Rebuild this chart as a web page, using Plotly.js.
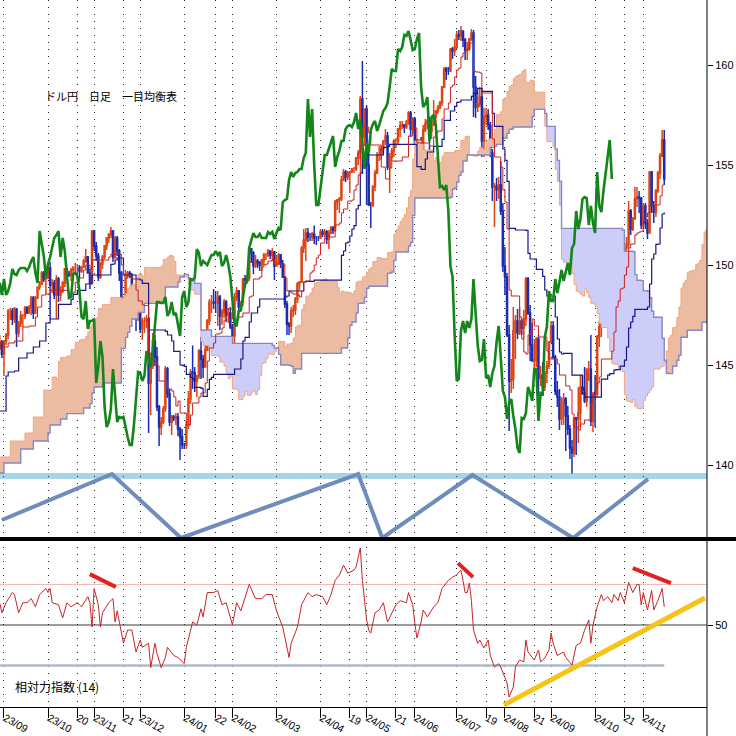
<!DOCTYPE html>
<html><head><meta charset="utf-8">
<script src="https://cdn.plot.ly/plotly-3.0.1.min.js"></script>
<style>html,body{margin:0;padding:0;background:#fff}#chart{width:736px;height:736px}</style>
</head><body><div id="chart"></div>
<script>
// ---------- DATA ----------
// trading-day index of the first candle (index 0 = 2023-09-01)
const FIRST_DAY = -2;
const openP = [
145.85,146.15,
145.55,146.2,146.5,147.7,147.7,147.3,147.8,146.6,147.1,147.45,147.45,147.85,147.6,147.85,148.35,147.6,148.35,148.9,149.05,149.6,149.3,
149.35,149.85,149.0,149.1,148.5,149.3,148.5,148.7,149.1,149.8,149.55,149.5,149.75,149.85,149.85,149.85,149.7,149.9,150.2,150.4,149.6,149.1,
151.7,150.95,150.45,149.4,150.05,150.4,150.95,151.35,151.5,151.7,150.4,151.35,150.7,149.6,148.35,148.4,149.55,149.6,149.45,148.7,147.4,147.3,
148.2,146.8,147.2,147.2,147.3,144.1,144.95,146.2,145.4,142.9,141.9,142.15,142.8,144.8,143.55,142.15,142.4,142.35,142.4,141.8,141.4,
141.0,141.0,142.0,143.3,144.65,144.6,144.2,144.45,145.7,145.3,144.9,145.75,147.2,148.15,148.15,148.1,148.1,148.4,147.45,147.65,148.15,147.5,147.6,
146.9,146.45,148.4,148.7,147.9,148.15,149.3,149.25,149.35,150.8,150.6,149.95,150.2,150.1,150.0,150.25,150.5,150.5,150.7,150.5,150.65,
149.95,150.1,150.5,150.05,149.4,148.05,147.05,146.95,147.7,147.75,148.3,149.05,149.15,150.85,151.25,151.6,151.4,151.4,151.55,151.35,151.35,
151.35,151.65,151.55,151.65,151.3,151.6,151.85,151.75,153.15,153.25,153.3,154.25,154.65,154.4,154.6,154.65,154.8,154.8,155.35,155.6,158.3,156.4,
157.8,155.0,153.0,153.0,153.9,154.6,155.5,155.5,155.8,156.2,156.45,154.9,155.4,155.7,156.2,156.2,156.8,156.95,157.0,156.9,157.15,157.6,156.8,
157.3,156.1,154.8,156.1,155.6,156.75,157.05,157.2,156.7,157.0,157.4,157.7,157.85,158.1,158.9,159.8,159.7,159.7,160.8,160.7,
160.9,161.5,161.45,161.7,161.25,160.75,160.8,161.3,161.6,158.9,157.9,158.05,158.4,156.2,157.4,157.5,157.0,155.6,153.9,153.95,153.75,154.0,152.7,
149.95,149.4,146.5,144.2,144.3,146.7,147.2,146.6,147.2,146.85,147.3,149.3,147.6,146.0,145.2,145.25,146.3,144.35,144.5,143.9,144.6,144.95,
146.15,146.95,145.4,143.7,143.4,142.3,143.1,143.3,142.45,141.8,140.85,140.6,142.35,142.3,142.6,143.9,143.6,143.2,144.8,144.8,142.2,
143.6,143.55,146.4,146.9,148.7,148.2,148.2,149.3,148.6,149.15,149.75,149.2,149.6,150.1,149.5,150.85,151.05,152.7,151.8,152.3,153.3,153.4,153.35,
152.0,152.95,152.1,151.6,154.65,152.95,152.65,153.7,154.6,155.45,156.25];
const highP = [
146.5,146.25,
146.25,146.6,147.8,147.85,147.85,147.9,147.85,147.2,147.7,147.55,147.95,147.95,148.0,148.45,148.45,148.45,148.9,149.2,149.7,149.7,149.8,
149.9,150.16,149.3,149.25,149.5,149.4,148.95,149.2,149.85,149.85,149.7,149.85,149.95,150.1,150.05,150.0,149.95,150.3,150.8,150.45,149.8,151.7,
151.75,151.15,150.6,150.15,150.5,151.0,151.4,151.6,151.9,151.75,151.45,151.45,150.8,149.7,148.45,149.75,149.7,149.7,149.6,148.8,147.6,148.5,
148.3,147.35,147.4,147.5,147.4,145.2,146.6,146.5,145.9,143.0,142.4,142.95,144.95,144.9,143.8,142.5,142.5,142.6,142.6,141.9,141.8,
141.1,142.2,143.7,144.8,145.98,144.9,144.5,145.8,146.4,145.5,146.0,147.3,148.3,148.5,148.8,148.7,148.7,148.5,147.8,148.3,148.25,147.85,147.9,
147.05,148.6,148.9,148.75,148.2,149.35,149.5,149.5,150.9,150.85,150.7,150.5,150.3,150.2,150.3,150.6,150.6,150.8,150.7,150.85,150.7,
150.5,150.6,150.55,150.25,149.45,148.2,147.15,147.9,148.0,148.4,149.15,149.2,150.95,151.8,151.85,151.85,151.6,151.65,151.97,151.45,151.45,
151.8,151.8,151.8,151.75,151.75,151.95,151.95,153.25,153.3,153.4,154.45,154.8,154.75,154.7,154.7,154.85,154.9,155.4,155.75,158.45,160.2,157.8,
157.99,155.95,153.15,154.0,154.75,155.65,155.95,155.95,156.25,156.8,156.65,155.6,155.85,156.3,156.35,156.85,157.2,157.2,157.05,157.25,157.7,157.7,157.4,
157.4,156.3,156.3,156.4,157.0,157.3,157.3,157.4,157.15,158.25,157.75,158.0,158.2,158.95,159.9,159.9,159.9,160.85,160.9,161.3,
161.7,161.75,161.95,161.7,161.35,161.15,161.35,161.8,161.75,159.45,158.6,158.9,158.85,157.85,157.85,157.8,157.15,155.8,154.1,154.35,154.4,155.2,153.1,
150.9,149.6,147.0,145.3,147.9,147.5,147.8,147.9,147.3,147.75,149.4,149.4,148.0,147.1,146.3,146.4,146.5,144.95,145.15,144.7,145.2,146.2,
147.2,147.2,145.5,144.2,143.8,143.4,143.6,143.4,142.95,142.0,141.25,142.4,142.4,143.9,144.5,144.5,144.9,144.8,145.2,146.5,143.6,
144.5,146.5,147.2,149.0,148.8,148.3,149.4,149.55,149.4,149.9,149.95,149.75,150.3,150.3,150.9,151.4,153.2,152.8,152.4,153.9,153.9,153.7,153.4,
153.1,153.1,152.3,154.7,154.7,153.2,153.8,154.7,155.6,156.75,156.75];
const lowP = [
145.75,145.35,
144.45,146.0,146.3,147.25,147.0,147.1,145.9,146.4,146.9,146.9,147.3,147.55,147.6,147.5,147.3,147.55,148.3,148.75,149.0,149.15,148.55,
149.3,147.3,148.6,148.3,147.3,148.15,148.2,148.6,148.9,149.4,149.4,149.2,149.6,149.6,149.6,149.3,149.6,149.85,150.1,149.6,148.8,149.05,
150.7,150.2,149.2,149.3,149.8,150.3,150.75,151.1,151.35,150.15,150.3,150.45,149.2,148.1,147.15,148.3,149.3,149.35,148.45,147.3,146.7,147.2,
146.6,146.25,146.6,146.85,141.6,142.5,144.8,144.95,142.7,140.95,141.5,142.05,142.65,143.35,141.95,141.5,142.2,142.0,141.45,140.25,140.8,
140.8,140.8,141.8,143.05,143.8,143.65,143.4,144.3,144.3,144.35,144.9,145.7,147.0,147.6,147.8,147.6,146.95,146.75,147.0,147.35,147.15,147.1,146.8,
145.9,146.0,148.2,147.65,147.65,147.95,148.9,149.1,149.2,150.1,149.55,149.85,149.85,149.7,149.7,150.0,150.25,150.4,150.3,150.2,149.25,
149.9,150.0,149.85,149.35,147.85,146.5,146.5,146.6,147.4,147.5,148.1,148.75,149.1,150.6,150.2,151.15,151.2,151.2,151.05,151.0,151.2,
151.3,151.4,151.5,151.05,150.8,151.55,151.55,151.65,152.75,152.6,153.2,154.2,154.15,154.25,153.6,154.6,154.6,154.7,155.0,155.3,154.55,155.95,
153.0,152.95,151.85,152.9,153.7,154.55,155.2,155.25,155.6,156.0,154.75,153.6,155.2,155.4,155.85,156.0,156.4,156.8,156.6,156.8,157.0,156.4,156.55,
156.1,154.55,154.75,155.5,155.2,156.65,156.8,155.7,156.3,156.95,157.1,157.55,157.8,157.95,158.85,159.25,159.5,159.65,160.3,160.45,
160.8,161.25,161.2,160.9,160.25,160.25,160.7,161.2,157.4,157.35,157.65,157.9,155.4,155.4,157.0,156.75,155.4,153.2,151.9,153.2,153.3,152.5,149.65,
148.5,146.4,141.7,143.6,143.8,145.3,146.3,146.5,146.5,146.3,146.95,147.5,145.2,145.2,144.5,144.9,143.45,143.95,143.8,143.7,144.1,144.8,
146.1,145.3,143.5,142.9,141.75,142.0,142.0,140.7,141.5,140.3,139.58,140.4,140.5,141.1,141.9,143.5,143.1,142.9,144.2,141.95,141.65,
141.9,143.4,145.9,146.4,147.35,147.4,148.1,148.35,148.5,149.05,148.9,149.1,149.3,149.4,149.45,150.6,150.85,151.5,151.7,152.3,152.9,152.6,151.8,
151.8,151.8,151.3,151.6,152.6,152.1,152.4,153.6,154.3,155.4,154.0];
const closeP = [
146.15,145.55,
146.2,146.5,147.7,147.7,147.3,147.8,146.6,147.1,147.45,147.45,147.85,147.6,147.85,148.35,147.6,148.35,148.9,149.05,149.6,149.3,149.35,
149.85,149.0,149.1,148.5,149.3,148.5,148.7,149.1,149.8,149.55,149.5,149.75,149.85,149.85,149.85,149.7,149.9,150.2,150.4,149.6,149.1,151.7,
150.95,150.45,149.4,150.05,150.4,150.95,151.35,151.5,151.7,150.4,151.35,150.7,149.6,148.35,148.4,149.55,149.6,149.45,148.7,147.4,147.3,148.2,
146.8,147.2,147.2,147.3,144.1,144.95,146.2,145.4,142.9,141.9,142.15,142.8,144.8,143.55,142.15,142.4,142.35,142.4,141.8,141.4,141.0,
141.0,142.0,143.3,144.65,144.6,144.2,144.45,145.7,145.3,144.9,145.75,147.2,148.15,148.15,148.1,148.1,148.4,147.45,147.65,148.15,147.5,147.6,146.9,
146.45,148.4,148.7,147.9,148.15,149.3,149.25,149.35,150.8,150.6,149.95,150.2,150.1,150.0,150.25,150.5,150.5,150.7,150.5,150.65,149.95,
150.1,150.5,150.05,149.4,148.05,147.05,146.95,147.7,147.75,148.3,149.05,149.15,150.85,151.25,151.6,151.4,151.4,151.55,151.35,151.35,151.35,
151.65,151.55,151.65,151.3,151.6,151.85,151.75,153.15,153.25,153.3,154.25,154.65,154.4,154.6,154.65,154.8,154.8,155.35,155.6,158.3,156.4,157.8,
155.0,153.0,153.0,153.9,154.6,155.5,155.5,155.8,156.2,156.45,154.9,155.4,155.7,156.2,156.2,156.8,156.95,157.0,156.9,157.15,157.6,156.8,157.3,
156.1,154.8,156.1,155.6,156.75,157.05,157.2,156.7,157.0,157.4,157.7,157.85,158.1,158.9,159.8,159.7,159.7,160.8,160.7,160.9,
161.5,161.45,161.7,161.25,160.75,160.8,161.3,161.6,158.9,157.9,158.05,158.4,156.2,157.4,157.5,157.0,155.6,153.9,153.95,153.75,154.0,152.7,149.95,
149.4,146.5,144.2,144.3,146.7,147.2,146.6,147.2,146.85,147.3,149.3,147.6,146.0,145.2,145.25,146.3,144.35,144.5,143.9,144.6,144.95,146.15,
146.95,145.4,143.7,143.4,142.3,143.1,143.3,142.45,141.8,140.85,140.6,142.35,142.3,142.6,143.9,143.6,143.2,144.8,144.8,142.2,143.6,
143.55,146.4,146.9,148.7,148.2,148.2,149.3,148.6,149.15,149.75,149.2,149.6,150.1,149.5,150.85,151.05,152.7,151.8,152.3,153.3,153.4,153.35,152.0,
152.95,152.1,151.6,154.65,152.95,152.65,153.7,154.6,155.45,156.25,154.3];

// x-axis ticks (trading-day index) and their labels
const tickDay  = [0,21,35,43,57,65,86,101,109,130,151,165,173,187,196,216,230,239,253,261,282,296,305];
const tickText = ['23/09','23/10','20','23/11','21','23/12','24/01','22','24/02','24/03','24/04','19','24/05','21','24/06','24/07','19','24/08','21','24/09','24/10','21','24/11'];

// Ichimoku lines as [day, value] steps (value holds until next step)
const tenkanSteps = [[-2,146.1],[0,145.9],[2,146.1],[5,146.2],[9,146.9],[12,146.95],[15,147.4],[16,147.9],[18,148.5],[20,148.55],[22,148.73],[31,148.58],[33,148.63],[34,149.13],[35,149.15],[36,149.35],[38,149.75],[39,150.0],[41,149.8],[42,150.25],[50,150.4],[51,150.55],[54,150.6],[55,150.55],[56,150.0],[57,149.5],[60,149.45],[61,149.3],[63,148.75],[64,148.2],[66,148.0],[67,147.97],[69,145.6],[70,145.2],[73,144.95],[74,144.2],[78,143.8],[80,143.7],[81,143.4],[82,142.95],[83,143.2],[84,142.6],[87,142.0],[89,142.5],[90,143.1],[93,143.4],[94,143.6],[96,144.1],[97,145.2],[98,145.85],[100,146.1],[101,146.55],[103,146.6],[104,146.85],[105,147.25],[106,147.8],[109,147.3],[112,147.4],[114,147.6],[117,148.4],[118,148.45],[119,149.3],[122,149.4],[123,149.9],[124,150.0],[125,150.05],[126,150.2],[128,150.27],[129,150.05],[134,149.35],[135,148.7],[137,148.6],[138,148.55],[140,148.5],[141,148.4],[142,148.7],[143,149.15],[144,149.2],[146,149.6],[147,149.7],[148,150.0],[149,150.35],[150,150.5],[151,151.1],[153,151.5],[155,151.4],[158,152.0],[160,152.1],[161,152.6],[162,152.8],[164,153.2],[166,153.25],[167,153.75],[168,154.0],[169,154.5],[170,156.0],[171,156.9],[174,156.6],[175,156.0],[180,154.9],[182,154.3],[184,154.85],[185,155.2],[190,155.4],[193,156.45],[195,156.8],[196,156.85],[197,156.1],[203,155.95],[205,156.4],[206,156.6],[207,156.7],[209,157.3],[210,157.8],[212,158.1],[213,158.9],[214,159.0],[215,159.4],[216,159.75],[217,159.85],[218,160.4],[219,160.6],[220,160.7],[221,160.8],[222,161.1],[224,159.7],[225,159.65],[227,159.6],[228,158.6],[233,156.3],[234,155.4],[237,154.9],[238,153.75],[239,153.15],[240,151.8],[241,148.75],[242,148.45],[246,147.4],[247,146.3],[248,145.65],[249,145.55],[250,146.5],[251,146.6],[252,147.3],[253,146.95],[255,146.4],[259,145.7],[260,145.3],[264,145.05],[265,144.5],[268,143.95],[270,143.75],[271,142.55],[272,141.9],[274,141.75],[275,142.05],[277,142.25],[280,143.05],[281,143.5],[282,143.8],[283,144.1],[284,144.4],[285,145.3],[290,145.7],[291,146.65],[292,147.9],[293,148.2],[294,148.8],[295,148.85],[296,149.5],[297,149.9],[298,150.85],[299,151.05],[301,151.5],[302,151.6],[303,151.65],[304,151.7],[305,152.25],[306,152.4],[307,152.6],[308,153.0],[313,153.45],[314,154.0],[315,154.0]];
const kijunSteps = [[-2,142.7],[1,144.45],[2,144.65],[5,144.7],[7,145.35],[11,145.6],[14,145.9],[17,146.2],[20,147.1],[22,147.3],[26,148.03],[32,148.28],[33,148.53],[35,148.73],[39,149.05],[42,149.5],[51,150.03],[52,150.05],[53,150.25],[54,150.35],[57,149.5],[63,149.3],[65,149.25],[66,149.08],[69,146.75],[77,146.68],[78,146.5],[80,146.2],[81,145.68],[84,145.0],[85,144.98],[86,144.93],[87,144.53],[89,144.38],[90,144.28],[91,143.88],[94,143.83],[95,143.43],[97,143.78],[98,144.28],[99,144.38],[100,144.53],[110,144.8],[113,145.3],[114,146.2],[115,146.38],[117,147.15],[118,147.6],[121,147.9],[122,148.3],[134,148.4],[135,148.45],[136,148.7],[143,149.15],[144,149.18],[148,149.24],[161,150.48],[162,150.7],[163,151.1],[164,151.15],[165,151.45],[166,151.8],[167,151.97],[168,152.8],[169,152.98],[170,154.6],[171,155.5],[181,155.88],[183,155.93],[184,156.03],[197,154.92],[199,154.78],[201,155.3],[202,155.65],[205,155.93],[209,156.28],[210,157.23],[213,157.7],[215,157.93],[216,158.13],[217,158.15],[218,158.25],[223,158.43],[224,158.58],[226,158.83],[228,158.68],[233,157.58],[234,156.93],[238,155.8],[239,155.23],[240,154.18],[241,151.83],[244,151.75],[249,151.73],[250,150.58],[251,150.3],[254,149.78],[257,149.43],[258,148.75],[259,148.45],[263,147.4],[264,146.3],[265,145.65],[266,145.55],[267,145.58],[271,144.49],[276,143.79],[277,143.39],[285,144.29],[288,144.49],[289,144.57],[291,144.74],[292,144.77],[294,144.94],[296,145.24],[297,145.9],[298,146.85],[299,147.15],[300,147.43],[301,147.78],[307,147.9],[308,149.05],[309,150.3],[310,150.55],[311,151.03],[312,151.05],[313,151.85],[314,152.55],[315,152.63]];
// Senkou spans, keyed by the day they are calculated on (drawn SHIFT days ahead)
const senkouASteps = [[-27,140.4],[-22,141.2],[-15,141.6],[-11,142.4],[-6,143.75],[-2,144.4],[0,144.3],[1,145.18],[2,145.38],[5,145.45],[7,145.78],[9,146.13],[11,146.25],[12,146.28],[14,146.43],[15,146.65],[16,146.9],[17,147.05],[18,147.35],[20,147.83],[22,148.02],[26,148.38],[31,148.32],[32,148.44],[33,148.58],[34,148.82],[35,148.94],[36,149.04],[38,149.24],[39,149.53],[41,149.43],[42,149.88],[50,149.95],[51,150.29],[53,150.4],[54,150.48],[55,150.45],[56,150.18],[57,149.5],[60,149.48],[61,149.4],[63,149.03],[64,148.75],[65,148.73],[66,148.54],[69,146.18],[70,145.98],[73,145.85],[74,145.48],[77,145.44],[78,145.15],[80,144.95],[81,144.54],[82,144.32],[83,144.44],[84,143.8],[86,143.77],[87,143.27],[89,143.44],[90,143.69],[91,143.49],[93,143.64],[94,143.72],[95,143.52],[96,143.77],[97,144.49],[98,145.07],[99,145.12],[100,145.32],[101,145.54],[104,145.69],[105,145.89],[106,146.17],[109,145.92],[110,146.05],[112,146.1],[113,146.35],[114,146.9],[115,146.99],[117,147.78],[118,148.03],[119,148.45],[121,148.6],[122,148.85],[123,149.1],[124,149.15],[126,149.25],[128,149.29],[129,149.18],[134,148.88],[135,148.58],[136,148.7],[137,148.65],[140,148.6],[141,148.55],[142,148.7],[143,149.15],[144,149.19],[146,149.39],[147,149.44],[148,149.62],[149,149.8],[150,149.87],[151,150.17],[153,150.37],[155,150.32],[158,150.62],[160,150.67],[161,151.54],[162,151.75],[163,151.95],[164,152.18],[165,152.33],[166,152.53],[167,152.86],[168,153.4],[169,153.74],[170,155.3],[171,156.2],[174,156.05],[175,155.75],[180,155.2],[181,155.39],[182,155.09],[183,155.12],[184,155.44],[185,155.62],[190,155.72],[193,156.24],[195,156.42],[196,156.44],[197,155.51],[199,155.44],[201,155.7],[202,155.88],[203,155.8],[205,156.17],[206,156.27],[207,156.32],[209,156.79],[210,157.52],[212,157.67],[213,158.3],[214,158.35],[215,158.67],[216,158.94],[217,159.0],[218,159.33],[219,159.43],[220,159.48],[221,159.53],[222,159.68],[223,159.77],[224,159.14],[225,159.12],[226,159.24],[227,159.22],[228,158.64],[233,156.94],[234,156.17],[237,155.92],[238,154.78],[239,154.19],[240,152.99],[241,150.29],[242,150.14],[244,150.1],[246,149.58],[247,149.03],[248,148.7],[249,148.64],[250,148.54],[251,148.45],[252,148.8],[253,148.63],[254,148.37],[255,148.09],[257,147.92],[258,147.58],[259,147.08],[260,146.88],[263,146.35],[264,145.68],[265,145.08],[266,145.03],[268,144.77],[270,144.67],[271,143.52],[272,143.2],[274,143.12],[275,143.27],[276,142.92],[277,142.82],[280,143.22],[281,143.45],[282,143.6],[283,143.75],[284,143.9],[285,144.8],[288,144.9],[289,144.94],[290,145.14],[291,145.7],[292,146.34],[293,146.49],[294,146.87],[295,146.9],[296,147.37],[297,147.9],[298,148.85],[299,149.1],[300,149.24],[301,149.64],[302,149.69],[303,149.72],[304,149.74],[305,150.02],[306,150.09],[307,150.25],[308,151.03],[309,151.65],[310,151.78],[311,152.02],[312,152.03],[313,152.65],[314,153.28],[315,153.32]];
const senkouBSteps = [[-27,139.6],[-25,140.1],[-17,140.8],[-11,141.2],[-4,141.6],[-3,142.0],[2,142.3],[5,142.57],[13,142.85],[16,143.07],[17,143.6],[18,143.9],[22,144.1],[31,145.83],[33,146.38],[34,146.63],[35,146.93],[36,147.3],[39,147.63],[42,148.08],[51,148.18],[52,148.9],[58,149.15],[59,149.4],[61,149.53],[63,149.3],[65,149.25],[66,149.08],[69,146.75],[74,146.43],[84,146.08],[103,145.98],[104,145.85],[106,145.53],[107,145.0],[111,144.98],[112,144.93],[113,144.58],[114,144.8],[117,145.58],[136,145.85],[139,146.35],[140,146.98],[141,147.15],[143,147.6],[144,148.08],[146,148.1],[147,148.38],[148,148.84],[149,148.94],[158,149.58],[159,149.6],[160,149.65],[161,150.23],[162,150.65],[168,150.95],[169,151.13],[170,152.48],[171,153.35],[188,153.4],[189,153.8],[190,153.85],[191,154.15],[192,154.48],[193,154.65],[194,155.2],[196,155.5],[207,155.88],[209,155.93],[210,156.03],[213,156.35],[215,156.58],[216,156.78],[217,156.8],[218,156.9],[227,157.43],[228,157.78],[233,157.58],[234,156.93],[238,155.8],[239,155.23],[240,154.18],[241,151.83],[270,151.75],[271,150.69],[275,150.67],[276,149.52],[277,149.24],[279,149.22],[280,148.72],[282,148.69],[283,148.37],[284,147.69],[285,147.39],[289,146.34],[290,145.24],[291,144.59],[292,144.57],[294,144.94],[296,145.24],[297,145.49],[298,146.39],[301,146.74],[308,147.14],[313,147.59],[314,148.17],[315,148.17]];
const SHIFT = 25;   // senkou drawn ahead / chikou drawn back by this many days

// RSI(14): [day, value]
const rsiPoints = [[-2,60.8],[-1,56],[1,61],[4,66],[5,65],[7,56],[9,61],[11,61],[13,63],[15,59],[17,65],[20,68],[21,66],[22,68],[23,61],[26,60],[28,53.5],[30,61],[32,59],[35,61],[37,59],[40,64],[41,61],[42,49],[43,68],[45,60],[46,49],[47,56],[50,61],[52,63],[53,51.5],[54,57],[57,41],[59,47.5],[61,47.5],[63,36.7],[65,42.6],[66,39],[69,41],[70,29],[72,41],[73,36],[75,29],[77,34],[78,39],[81,35],[83,34],[86,31],[87,39],[90,51.5],[92,50],[94,58],[95,54],[97,66],[100,66],[102,67],[104,60],[106,61],[109,50],[111,61],[113,57],[115,63],[117,70],[120,63],[123,63],[125,65],[128,65],[130,57],[133,49],[136,34],[137,41],[140,49],[142,60],[145,66],[147,64],[149,65],[152,64],[154,60],[156,65],[158,72],[160,74.6],[162,79.5],[164,75.6],[167,77],[168,78.6],[170,88],[171,72],[173,52.5],[174,47.5],[175,46],[177,56],[179,57.4],[181,61],[183,51.5],[186,57.4],[187,60],[189,62],[192,61],[193,66],[195,60],[196,51],[197,43.6],[199,51.5],[200,57.4],[202,54],[205,59],[207,61],[209,68],[211,70.7],[212,72],[214,73.6],[216,74.6],[217,76],[218,77],[219,72],[220,66],[221,66],[222,70.7],[223,62],[224,47.5],[226,41],[227,42.6],[229,38.7],[231,42.6],[232,35],[234,29.3],[236,31],[237,29.3],[240,21.4],[241,14.5],[243,19.5],[244,29.3],[246,32.8],[248,31.8],[249,42.6],[250,36.7],[253,32.8],[255,37.7],[256,31.8],[258,33.7],[260,37.7],[261,46],[262,41],[264,35],[267,36.7],[268,34],[271,30.3],[272,35],[273,40],[275,41],[277,47.5],[279,52.5],[280,41],[281,50],[283,59],[285,65],[286,62],[288,64],[290,61],[291,65],[293,62],[294,66],[296,61],[298,71],[300,66],[302,70],[303,70],[304,60],[305,66],[307,57.4],[309,67],[310,57.4],[312,62],[314,68],[315,59]];
const rsiLevels = [70, 50, 30];

// hand-drawn analysis lines
const supportLevel = 139.45;
const waveDay = [-1, 51.5, 84.5, 169, 180.5, 223.5, 271.5, 307.3];
const waveVal = [137.25, 139.55, 136.35, 139.55, 136.35, 139.5, 136.35, 139.3];
const rsiDivergence = [ [[41,75.1],[53.4,68.7]], [[216.6,80.5],[223.8,73.6]], [[300,78],[318.2,70.7]] ];
const rsiTrendline = [[238.5,10.6],[334.4,63.3]];

// ---------- BUILD ----------
const N = Math.min(openP.length, highP.length, lowP.length, closeP.length);
const days = []; for (let k = 0; k < N; k++) days.push(FIRST_DAY + k);
const LAST_DAY = days[N - 1];

const PEACH = '#ebbba2', LAVENDER = '#cdcdf9';
function stepAt(steps, d) { let v = steps[0][1]; for (const s of steps) { if (s[0] <= d) v = s[1]; else break; } return v; }

const segs = []; let cur = null;
for (let j = senkouASteps[0][0]; j <= LAST_DAY; j++) {
  const a = stepAt(senkouASteps, j), b = stepAt(senkouBSteps, j), up = a >= b;
  if (!cur || cur.up !== up) { cur = {up, js: [], a: [], b: []}; segs.push(cur); }
  cur.js.push(j); cur.a.push(a); cur.b.push(b);
}
const traces = [];
segs.forEach(s => {
  const xs = [], ys = [];
  s.js.forEach((j, k) => { xs.push(j + SHIFT, j + SHIFT + 1); ys.push(s.a[k], s.a[k]); });
  for (let k = s.js.length - 1; k >= 0; k--) { xs.push(s.js[k] + SHIFT + 1, s.js[k] + SHIFT); ys.push(s.b[k], s.b[k]); }
  traces.push({type: 'scatter', mode: 'lines', x: xs, y: ys, fill: 'toself', fillcolor: s.up ? PEACH : LAVENDER,
    line: {width: 0}, hoverinfo: 'skip', showlegend: false, xaxis: 'x', yaxis: 'y'});
});
const lineTrace = (steps, color, width, shift) => ({type: 'scatter', mode: 'lines',
  x: steps.map(s => s[0] + shift), y: steps.map(s => s[1]),
  line: {color, width, shape: 'hv'}, hoverinfo: 'skip', showlegend: false, xaxis: 'x', yaxis: 'y'});
traces.push(lineTrace(senkouASteps, '#f2a57f', 1, SHIFT));
traces.push(lineTrace(senkouBSteps, '#8787c4', 1.4, SHIFT));

traces.push({type: 'candlestick', x: days, open: openP.slice(0, N), high: highP.slice(0, N), low: lowP.slice(0, N), close: closeP.slice(0, N),
  increasing: {line: {color: '#de4412', width: 1.5}, fillcolor: '#de4412'},
  decreasing: {line: {color: '#1a2cb4', width: 1.5}, fillcolor: '#1a2cb4'},
  whiskerwidth: 0, hoverinfo: 'skip', showlegend: false, xaxis: 'x', yaxis: 'y'});
traces.push(lineTrace(kijunSteps, '#16168e', 1.2, 0));
traces.push(lineTrace(tenkanSteps, '#cc2020', 1, 0));
traces.push({type: 'scatter', mode: 'lines', x: days.map(d => d - SHIFT), y: closeP.slice(0, N),
  line: {color: '#12861a', width: 2.6}, hoverinfo: 'skip', showlegend: false, xaxis: 'x', yaxis: 'y'});
traces.push({type: 'scatter', mode: 'lines', x: waveDay, y: waveVal, line: {color: '#6e8dbb', width: 4},
  hoverinfo: 'skip', showlegend: false, xaxis: 'x', yaxis: 'y', cliponaxis: false});

traces.push({type: 'scatter', mode: 'lines', x: [FIRST_DAY, LAST_DAY], y: [rsiLevels[2], rsiLevels[2]],
  line: {color: '#adbac8', width: 2.5}, hoverinfo: 'skip', showlegend: false, xaxis: 'x', yaxis: 'y2'});
traces.push({type: 'scatter', mode: 'lines', x: rsiPoints.map(p => p[0]), y: rsiPoints.map(p => p[1]),
  line: {color: '#c42626', width: 1}, hoverinfo: 'skip', showlegend: false, xaxis: 'x', yaxis: 'y2'});
rsiDivergence.forEach(seg => traces.push({type: 'scatter', mode: 'lines', x: seg.map(p => p[0]), y: seg.map(p => p[1]),
  line: {color: '#e02222', width: 4}, hoverinfo: 'skip', showlegend: false, xaxis: 'x', yaxis: 'y2'}));
traces.push({type: 'scatter', mode: 'lines', x: rsiTrendline.map(p => p[0]), y: rsiTrendline.map(p => p[1]),
  line: {color: '#f6c316', width: 5}, hoverinfo: 'skip', showlegend: false, xaxis: 'x', yaxis: 'y2'});

const NARROW = '"Liberation Sans Narrow","Liberation Sans",Arial,sans-serif';
const PH = 707;
const layout = {
  width: 736, height: 736, margin: {l: 0, r: 29, t: 0, b: 29},
  paper_bgcolor: '#fff', plot_bgcolor: '#fff', showlegend: false, hovermode: false,
  xaxis: {type: 'linear', domain: [0, 1], range: [-1.9, 335.4], anchor: 'y2',
    tickvals: tickDay, ticktext: tickText, ticks: 'outside', ticklen: 10, tickcolor: '#000', tickwidth: 1,
    ticklabelposition: 'outside right',
    showline: true, linecolor: '#000', linewidth: 1, showgrid: true, gridcolor: '#222', gridwidth: 1, griddash: '1px,6px',
    zeroline: false, tickfont: {family: NARROW, size: 10.5, color: '#000'}, rangeslider: {visible: false}, fixedrange: true},
  yaxis: {domain: [1 - 538 / PH, 1], range: [136.35, 163.25], side: 'right', anchor: 'x',
    tickvals: [140, 145, 150, 155, 160], ticks: 'outside', ticklen: 5, tickcolor: '#000',
    showgrid: false, zeroline: false, showline: false, tickfont: {family: NARROW, size: 11, color: '#000'}, fixedrange: true},
  yaxis2: {domain: [0, 1 - 540 / PH], range: [9.6, 91.9], side: 'right', anchor: 'x',
    tickvals: [50], ticks: 'outside', ticklen: 5, tickcolor: '#000',
    showgrid: false, zeroline: false, showline: false, tickfont: {family: NARROW, size: 11, color: '#000'}, fixedrange: true},
  shapes: [
    {type: 'line', xref: 'paper', yref: 'y', x0: 0, x1: 1, y0: supportLevel, y1: supportLevel, line: {color: '#a6d6e6', width: 6}, layer: 'below'},
    {type: 'line', xref: 'paper', yref: 'y2', x0: 0, x1: 1, y0: rsiLevels[0], y1: rsiLevels[0], line: {color: '#f3b3b3', width: 1}, layer: 'below'},
    {type: 'line', xref: 'paper', yref: 'y2', x0: 0, x1: 1, y0: rsiLevels[1], y1: rsiLevels[1], line: {color: '#7d7d7d', width: 1.3}, layer: 'below'},
    {type: 'line', xref: 'paper', yref: 'paper', x0: 0, x1: 736 / 707, y0: 1 - 539 / PH, y1: 1 - 539 / PH, line: {color: '#000', width: 4}},
    {type: 'line', xref: 'paper', yref: 'paper', x0: 1, x1: 1, y0: -29 / PH, y1: 1, line: {color: '#000', width: 1}}
  ],
  annotations: [
    {xref: 'paper', yref: 'paper', x: 43 / 707, y: 1 - 96 / PH, xanchor: 'left', yanchor: 'middle', showarrow: false,
     text: 'ドル円\u2002\u2002日足\u2002\u2002一目均衡表', font: {family: '"Noto Sans CJK JP",sans-serif', size: 11, color: '#000'}},
    {xref: 'paper', yref: 'paper', x: 13 / 707, y: 1 - 686 / PH, xanchor: 'left', yanchor: 'middle', showarrow: false,
     text: '相対力指数 (14)', font: {family: '"Noto Sans CJK JP",sans-serif', size: 12, color: '#000'}}
  ]
};
Plotly.newPlot('chart', traces, layout, {staticPlot: true, displayModeBar: false});
</script></body></html>
